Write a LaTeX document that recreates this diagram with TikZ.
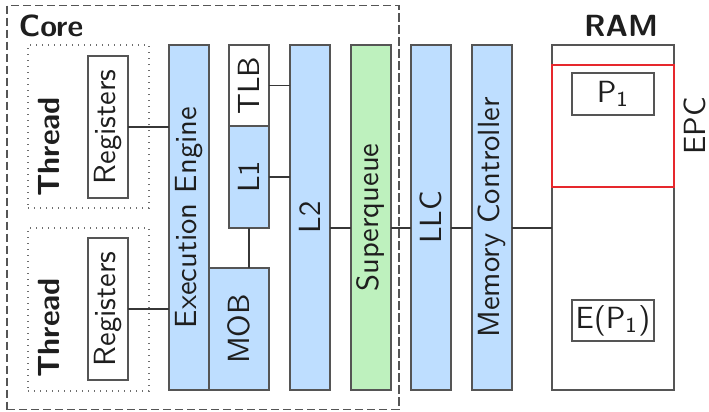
\documentclass[tikz,border=0pt]{standalone}
\usepackage{graphicx}
\renewcommand\familydefault{\sfdefault}
\definecolor{unitblue}{RGB}{190,222,255}
\definecolor{unitgreen}{RGB}{190,241,190}
\definecolor{edgegray}{RGB}{85,85,85}
\definecolor{dotgray}{RGB}{110,110,110}
\definecolor{wiregray}{RGB}{55,55,55}
\definecolor{epcred}{RGB}{230,40,45}
\definecolor{inkgray}{RGB}{30,30,30}
\def\U{0.33333pt}
\begin{document}
\begin{tikzpicture}[x=0.33333pt,y=-0.33333pt,
  every node/.style={text=inkgray, font=\fontsize{10.2}{12}\selectfont},
  unit/.style={draw=edgegray, line width=0.4pt, inner sep=0pt, outer sep=0pt},
  bluebox/.style={unit, fill=unitblue},
  greenbox/.style={unit, fill=unitgreen},
  whitebox/.style={unit, fill=white},
  threadbox/.style={draw=dotgray, line width=0.35pt, dash pattern=on 0.35pt off 1.65pt, inner sep=0pt},
  coreframe/.style={draw=edgegray, line width=0.4pt, dash pattern=on 2.7pt off 1.3pt, inner sep=0pt},
  heading/.style={font=\fontsize{10.2}{12}\selectfont\bfseries, inner sep=0pt},
  wire/.style={draw=wiregray, line width=0.55pt}]
\useasboundingbox (0,0) rectangle (709,411);

% core outline and its title
\node[coreframe, minimum width=392*\U, minimum height=404*\U] (core) at (203,207.5) {};
\node[heading] (corelbl) at (51,26) {Core};

% the two hardware threads
\node[threadbox, minimum width=121*\U, minimum height=163*\U] (thr1) at (88.5,126.5) {};
\node[threadbox, minimum width=121*\U, minimum height=163*\U] (thr2) at (88.5,309.5) {};
\node[heading] (thr1lbl) at (49,147) {\rotatebox{90}{Thread}};
\node[heading] (thr2lbl) at (49,328) {\rotatebox{90}{Thread}};
\node[whitebox, minimum width=40*\U, minimum height=142*\U] (reg1) at (108,127) {\rotatebox{90}{Registers}};
\node[whitebox, minimum width=40*\U, minimum height=142*\U] (reg2) at (108,309) {\rotatebox{90}{Registers}};

% execution engine, caches and buffers
\node[bluebox, minimum width=40*\U, minimum height=345*\U] (ee) at (189,217.5) {\rotatebox{90}{Execution Engine}};
\node[whitebox, minimum width=40*\U, minimum height=81*\U] (tlb) at (249,85.5) {\rotatebox{90}{TLB}};
\node[bluebox, minimum width=40*\U, minimum height=102*\U] (l1) at (249,177) {\rotatebox{90}{L1}};
\node[bluebox, minimum width=60*\U, minimum height=122*\U] (mob) at (239,329) {\rotatebox{90}{MOB}};
\node[bluebox, minimum width=40*\U, minimum height=345*\U] (l2) at (310,217.5) {\rotatebox{90}{L2}};
\node[greenbox, minimum width=40*\U, minimum height=345*\U] (sq) at (371,217.5) {\rotatebox{90}{Superqueue}};

% uncore
\node[bluebox, minimum width=40*\U, minimum height=345*\U] (llc) at (431,217.5) {\rotatebox{90}{LLC}};
\node[bluebox, minimum width=40*\U, minimum height=345*\U] (mc) at (492,217.5) {\rotatebox{90}{Memory Controller}};

% main memory with the enclave page cache
\node[whitebox, minimum width=122*\U, minimum height=345*\U] (ram) at (613,217.5) {};
\node[heading] (ramlbl) at (621,26) {RAM};
\node[draw=epcred, line width=0.45pt, inner sep=0pt, minimum width=122*\U, minimum height=122*\U] (epc) at (613,126) {};
\node[inner sep=0pt] (epclbl) at (695,126) {\rotatebox{90}{EPC}};
\node[whitebox, minimum width=82*\U, minimum height=42*\U] (p1) at (613,94) {P\textsubscript{1}};
\node[whitebox, minimum width=82*\U, minimum height=41*\U] (ep1) at (613,320.5) {E(P\textsubscript{1})};

% interconnect
\draw[wire] (reg1.east) -- (reg1.east -| ee.west);
\draw[wire] (reg2.east) -- (reg2.east -| ee.west);
\draw[wire] (tlb.east) -- (tlb.east -| l2.west);
\draw[wire] (l1.east) -- (l1.east -| l2.west);
\draw[wire] (l1.south) -- (l1.south |- mob.north);
\draw[wire] ([yshift=-10.5*\U]l2.east) -- ([yshift=-10.5*\U]sq.west);
\draw[wire] ([yshift=-10.5*\U]sq.east) -- ([yshift=-10.5*\U]llc.west);
\draw[wire] ([yshift=-10.5*\U]llc.east) -- ([yshift=-10.5*\U]mc.west);
\draw[wire] ([yshift=-10.5*\U]mc.east) -- ([yshift=-10.5*\U]ram.west);
\end{tikzpicture}
\end{document}
